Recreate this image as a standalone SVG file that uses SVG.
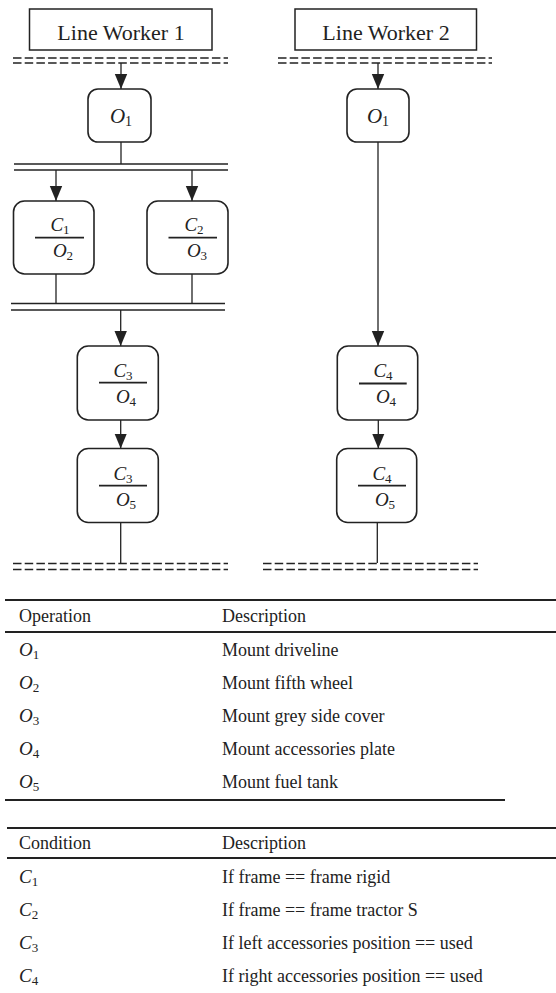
<svg xmlns="http://www.w3.org/2000/svg" width="556" height="993" viewBox="0 0 556 993">
<style>
.bg{fill:#fff}
.hdr{fill:#fff;stroke:#222;stroke-width:1.5}
.node{fill:#fff;stroke:#222;stroke-width:1.6}
.frac{stroke:#222;stroke-width:1.8}
.ln{stroke:#222;stroke-width:1.3;fill:none}
.bar{stroke:#222;stroke-width:1.6;fill:none}
.dash{stroke:#222;stroke-width:1.4;stroke-dasharray:8.5 3.2;fill:none}
.rule{stroke:#222;stroke-width:2.2}
.t{font-family:"Liberation Serif","Times New Roman",serif;fill:#222}
.title{font-size:22px}
.m{font-family:"Liberation Serif","Times New Roman",serif;font-style:italic;fill:#222}
.s{font-style:normal}
.tb{font-size:18px}
</style>
<defs>
<marker id="ah" markerUnits="userSpaceOnUse" markerWidth="15" markerHeight="14" viewBox="0 0 15 14" refX="15" refY="7" orient="auto">
<path d="M0,0.8 L15,7 L0,13.2 z" fill="#222"/>
</marker>
</defs>
<rect class="bg" width="556" height="993"/>

<g id="connectors">
<line class="dash" x1="13" y1="58" x2="228" y2="58"/>
<line class="dash" x1="13" y1="63" x2="228" y2="63"/>
<line class="dash" x1="278" y1="58" x2="492" y2="58"/>
<line class="dash" x1="278" y1="63" x2="492" y2="63"/>
<line class="ln" x1="121" y1="63" x2="121" y2="89" marker-end="url(#ah)"/>
<line class="ln" x1="378" y1="63" x2="378" y2="89" marker-end="url(#ah)"/>
<line class="ln" x1="121" y1="142" x2="121" y2="164"/>
<line class="bar" x1="14" y1="164" x2="228" y2="164"/>
<line class="bar" x1="14" y1="170" x2="228" y2="170"/>
<line class="ln" x1="56" y1="170" x2="56" y2="201" marker-end="url(#ah)"/>
<line class="ln" x1="192" y1="170" x2="192" y2="201" marker-end="url(#ah)"/>
<line class="ln" x1="56" y1="274" x2="56" y2="303"/>
<line class="ln" x1="192" y1="274" x2="192" y2="303"/>
<line class="bar" x1="11" y1="303.5" x2="225" y2="303.5"/>
<line class="bar" x1="11" y1="310" x2="225" y2="310"/>
<line class="ln" x1="120.7" y1="310" x2="120.7" y2="346" marker-end="url(#ah)"/>
<line class="ln" x1="120.7" y1="420" x2="120.7" y2="448.5" marker-end="url(#ah)"/>
<line class="ln" x1="120.7" y1="522.5" x2="120.7" y2="563"/>
<line class="dash" x1="13" y1="563.5" x2="228" y2="563.5"/>
<line class="dash" x1="13" y1="569.5" x2="228" y2="569.5"/>
<line class="ln" x1="378" y1="142" x2="378" y2="346" marker-end="url(#ah)"/>
<line class="ln" x1="378.3" y1="420" x2="378.3" y2="448.5" marker-end="url(#ah)"/>
<line class="ln" x1="377.3" y1="522.5" x2="377.3" y2="563"/>
<line class="dash" x1="263" y1="563.5" x2="478" y2="563.5"/>
<line class="dash" x1="263" y1="569.5" x2="478" y2="569.5"/>
</g>

<g id="lw1">
<rect class="hdr" x="29.5" y="9" width="182.5" height="41"/>
<text class="t title" x="121" y="40" text-anchor="middle">Line Worker 1</text>
</g>
<g id="lw2">
<rect class="hdr" x="295" y="9" width="181.5" height="41"/>
<text class="t title" x="386" y="40" text-anchor="middle">Line Worker 2</text>
</g>

<g id="w1-o1">
<rect class="node" x="88" y="89" width="63" height="53" rx="10"/>
<text class="m" x="121" y="123" font-size="21" text-anchor="middle">O<tspan class="s" font-size="14" dy="3">1</tspan></text>
</g>
<g id="w2-o1">
<rect class="node" x="347" y="89" width="62" height="53" rx="10"/>
<text class="m" x="378" y="123" font-size="21" text-anchor="middle">O<tspan class="s" font-size="14" dy="3">1</tspan></text>
</g>

<g id="w1-c1o2">
<rect class="node" x="13.5" y="201" width="80.5" height="73" rx="11"/>
<text class="m" x="60" y="231" font-size="19" text-anchor="middle">C<tspan class="s" font-size="13" dy="3">1</tspan></text>
<line class="frac" x1="35" y1="237.7" x2="84" y2="237.7"/>
<text class="m" x="63" y="257" font-size="19" text-anchor="middle">O<tspan class="s" font-size="13" dy="3">2</tspan></text>
</g>
<g id="w1-c2o3">
<rect class="node" x="147" y="201" width="81" height="73" rx="11"/>
<text class="m" x="194" y="231" font-size="19" text-anchor="middle">C<tspan class="s" font-size="13" dy="3">2</tspan></text>
<line class="frac" x1="168.5" y1="237.7" x2="217" y2="237.7"/>
<text class="m" x="197" y="257" font-size="19" text-anchor="middle">O<tspan class="s" font-size="13" dy="3">3</tspan></text>
</g>
<g id="w1-c3o4">
<rect class="node" x="77.3" y="346" width="81" height="74" rx="11"/>
<text class="m" x="123" y="376.5" font-size="19" text-anchor="middle">C<tspan class="s" font-size="13" dy="3">3</tspan></text>
<line class="frac" x1="99" y1="382.7" x2="147" y2="382.7"/>
<text class="m" x="126" y="402.5" font-size="19" text-anchor="middle">O<tspan class="s" font-size="13" dy="3">4</tspan></text>
</g>
<g id="w1-c3o5">
<rect class="node" x="77.3" y="448.5" width="81" height="74" rx="11"/>
<text class="m" x="123" y="479.5" font-size="19" text-anchor="middle">C<tspan class="s" font-size="13" dy="3">3</tspan></text>
<line class="frac" x1="99" y1="485.7" x2="147" y2="485.7"/>
<text class="m" x="126" y="505.5" font-size="19" text-anchor="middle">O<tspan class="s" font-size="13" dy="3">5</tspan></text>
</g>
<g id="w2-c4o4">
<rect class="node" x="337.3" y="346" width="80.4" height="74" rx="11"/>
<text class="m" x="383" y="376.5" font-size="19" text-anchor="middle">C<tspan class="s" font-size="13" dy="3">4</tspan></text>
<line class="frac" x1="359" y1="383.5" x2="406.7" y2="383.5"/>
<text class="m" x="386" y="403" font-size="19" text-anchor="middle">O<tspan class="s" font-size="13" dy="3">4</tspan></text>
</g>
<g id="w2-c4o5">
<rect class="node" x="336.7" y="448.5" width="80" height="74" rx="11"/>
<text class="m" x="382" y="479.5" font-size="19" text-anchor="middle">C<tspan class="s" font-size="13" dy="3">4</tspan></text>
<line class="frac" x1="358" y1="485.7" x2="406" y2="485.7"/>
<text class="m" x="385" y="505.5" font-size="19" text-anchor="middle">O<tspan class="s" font-size="13" dy="3">5</tspan></text>
</g>

<g id="operation-table">
<line class="rule" x1="5" y1="600" x2="556" y2="600"/>
<text class="t tb" x="19" y="622">Operation</text>
<text class="t tb" x="222" y="622">Description</text>
<line class="rule" x1="5" y1="632" x2="556" y2="632"/>
<text class="m" x="19" y="656" font-size="19">O<tspan class="s" font-size="13" dy="3">1</tspan></text>
<text class="t tb" x="222" y="656">Mount driveline</text>
<text class="m" x="19" y="689" font-size="19">O<tspan class="s" font-size="13" dy="3">2</tspan></text>
<text class="t tb" x="222" y="689">Mount fifth wheel</text>
<text class="m" x="19" y="722" font-size="19">O<tspan class="s" font-size="13" dy="3">3</tspan></text>
<text class="t tb" x="222" y="722">Mount grey side cover</text>
<text class="m" x="19" y="755" font-size="19">O<tspan class="s" font-size="13" dy="3">4</tspan></text>
<text class="t tb" x="222" y="755">Mount accessories plate</text>
<text class="m" x="19" y="788" font-size="19">O<tspan class="s" font-size="13" dy="3">5</tspan></text>
<text class="t tb" x="222" y="788">Mount fuel tank</text>
<line class="rule" x1="5" y1="800" x2="505" y2="800"/>
</g>

<g id="condition-table">
<line class="rule" x1="7" y1="828" x2="556" y2="828"/>
<text class="t tb" x="19" y="849">Condition</text>
<text class="t tb" x="222" y="849">Description</text>
<line class="rule" x1="7" y1="858" x2="556" y2="858"/>
<text class="m" x="19" y="883" font-size="19">C<tspan class="s" font-size="13" dy="3">1</tspan></text>
<text class="t tb" x="222" y="883">If frame == frame rigid</text>
<text class="m" x="19" y="916" font-size="19">C<tspan class="s" font-size="13" dy="3">2</tspan></text>
<text class="t tb" x="222" y="916">If frame == frame tractor S</text>
<text class="m" x="19" y="949" font-size="19">C<tspan class="s" font-size="13" dy="3">3</tspan></text>
<text class="t tb" x="222" y="949">If left accessories position == used</text>
<text class="m" x="19" y="982" font-size="19">C<tspan class="s" font-size="13" dy="3">4</tspan></text>
<text class="t tb" x="222" y="982">If right accessories position == used</text>
</g>
</svg>
